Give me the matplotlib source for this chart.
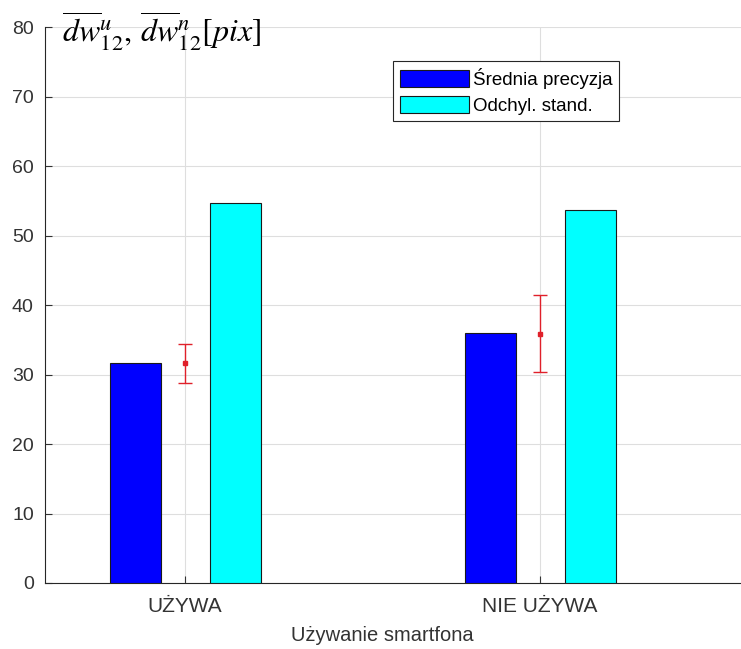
import matplotlib
matplotlib.use("Agg")
import matplotlib.pyplot as plt
import numpy as np

plt.rcParams['font.family'] = ['Liberation Sans', 'DejaVu Sans']
plt.rcParams['mathtext.fontset'] = 'stix'

categories = ['UŻYWA', 'NIE UŻYWA']
mean_precision = [31.6, 36.0]
std_dev = [54.7, 53.7]
err_center = [31.6, 35.9]
err_half = [2.8, 5.5]
legend_labels = ['Średnia precyzja', 'Odchyl. stand.']

fig = plt.figure(figsize=(7.41, 6.49), dpi=100)
ax = fig.add_axes([0.0607, 0.1017, 0.9393, 0.8565])

x = np.arange(1, len(categories) + 1)
w = 0.144
ax.bar(x - 0.14, mean_precision, w, color='#0000ff', edgecolor='#1a1a1a', linewidth=0.8,
       label=legend_labels[0], zorder=3)
ax.bar(x + 0.142, std_dev, w, color='#00ffff', edgecolor='#1a1a1a', linewidth=0.8,
       label=legend_labels[1], zorder=3)
ax.errorbar(x, err_center, yerr=err_half, fmt='s', color='#e0202a', ms=3,
            capsize=5, elinewidth=1.0, capthick=1.0, zorder=4)

ax.set_xlim(0.606, 2.566)
ax.set_ylim(0, 80)
ax.set_yticks(np.arange(0, 81, 10))
ax.set_xticks(x)
ax.set_xticklabels(categories)
ax.tick_params(direction='in', colors='#333333', length=5, width=0.8)
ax.tick_params(axis='x', pad=10, labelsize=15)
ax.tick_params(axis='y', pad=8, labelsize=14)
ax.grid(True, color='#dedede', linewidth=0.8, zorder=0)
ax.set_axisbelow(True)
for s in ['top', 'right']:
    ax.spines[s].set_visible(False)
for s in ['left', 'bottom']:
    ax.spines[s].set_color('#262626')
    ax.spines[s].set_linewidth(0.8)

ax.set_xlabel('Używanie smartfona', fontsize=14.5, color='#333333')
ax.xaxis.set_label_coords(0.484, -0.078)

fig.text(0.083, 0.952, r'$\overline{dw}_{12}^{u},\,\overline{dw}_{12}^{n}[pix]$',
         fontsize=23, va='center', ha='left', color='black')

leg = ax.legend(loc='upper left', bbox_to_anchor=(0.5, 0.939), fontsize=13.5,
                handlelength=3.7, handleheight=1.0, handletextpad=0.2,
                borderpad=0.35, labelspacing=0.38, borderaxespad=0,
                fancybox=False, framealpha=1, edgecolor='#262626')
leg.get_frame().set_linewidth(0.8)

fig.savefig('out.png', dpi=100)
